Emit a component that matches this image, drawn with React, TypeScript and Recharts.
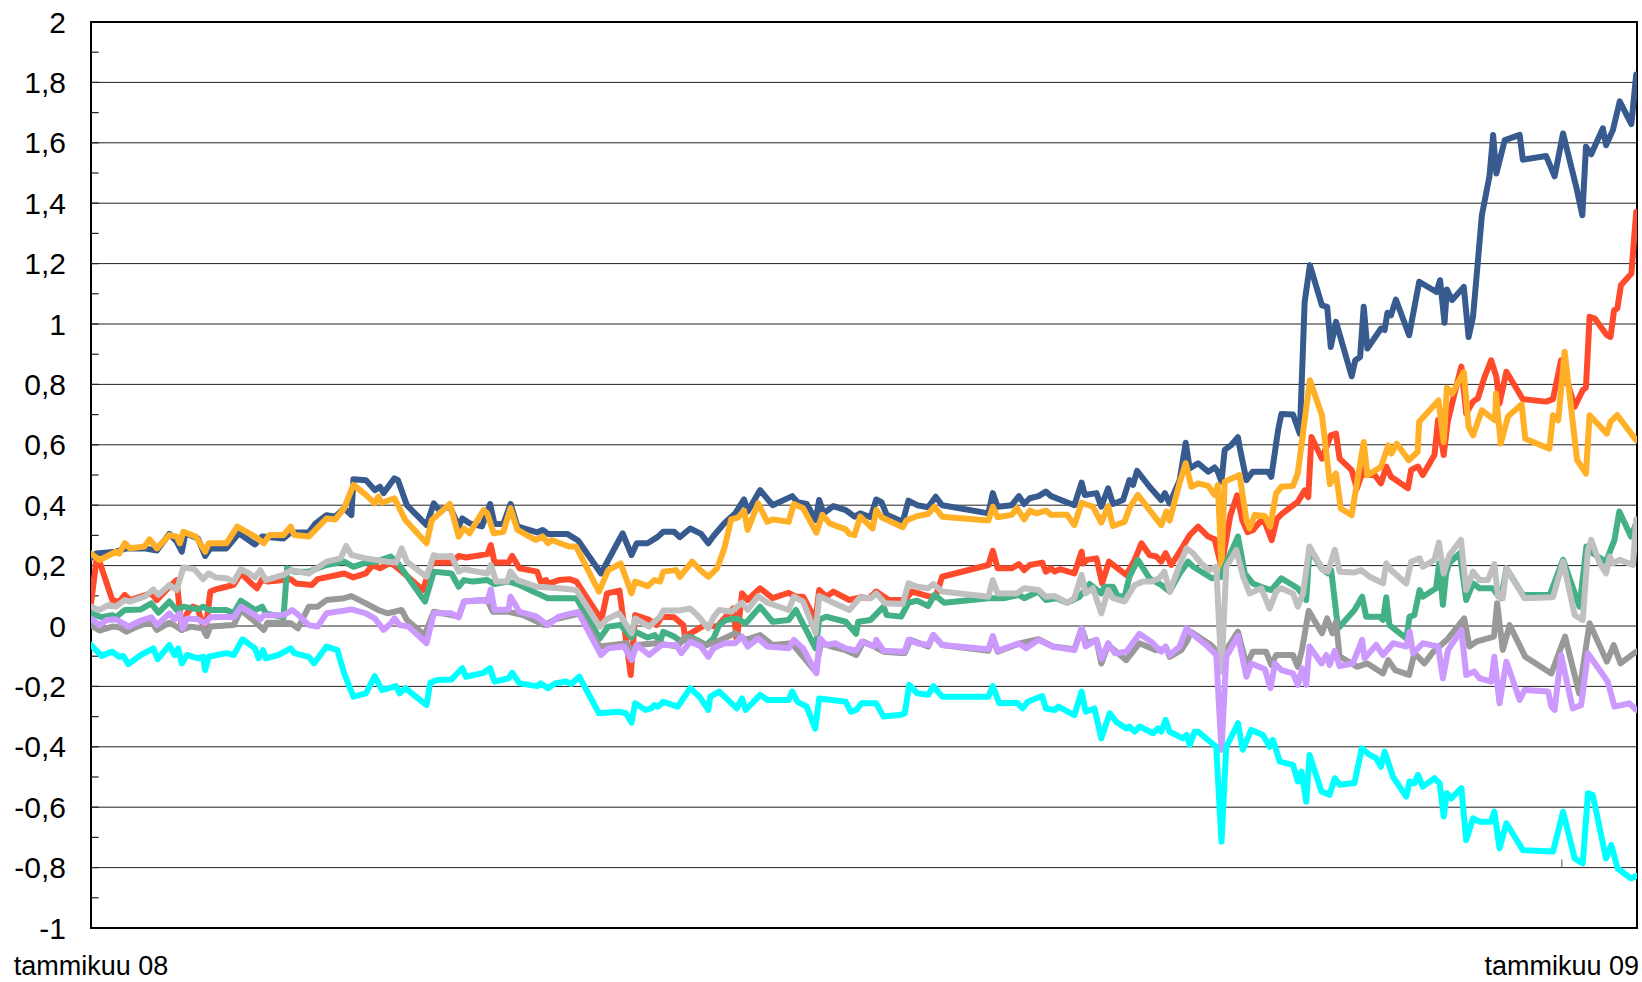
import {
  LineChart,
  Line,
  XAxis,
  YAxis,
  CartesianGrid,
  ReferenceLine,
  ReferenceArea,
} from "recharts";

// [päivä tammikuun 2008 alusta, arvo]
type Pt = [number, number];

const X_END = 384.7;
const X_TICKS = [0, 366];
const X_LABELS: Record<number, string> = { 0: "tammikuu 08", 366: "tammikuu 09" };
const Y_TICKS = [-1, -0.8, -0.6, -0.4, -0.2, 0, 0.2, 0.4, 0.6, 0.8, 1, 1.2, 1.4, 1.6, 1.8, 2];
const MINOR_TICKS = [
  -0.9, -0.8, -0.7, -0.6, -0.5, -0.4, -0.3, -0.2, -0.1, 0, 0.1, 0.2, 0.3, 0.4, 0.5, 0.6, 0.7,
  0.8, 0.9, 1, 1.1, 1.2, 1.3, 1.4, 1.5, 1.6, 1.7, 1.8, 1.9,
];

const blue: Pt[] = [
  [0, 0.225], [1.3, 0.24], [6.2, 0.246], [8.8, 0.257], [13.3, 0.257], [16.4, 0.25], [19.5, 0.305], [21.3, 0.28],
  [22.6, 0.246], [23.5, 0.307], [26.6, 0.29], [28.4, 0.232], [29.7, 0.257], [33.7, 0.257], [36.8, 0.307], [40.8, 0.27],
  [42.6, 0.296], [47.9, 0.29], [49.7, 0.31], [54.2, 0.31], [55.9, 0.34], [58.6, 0.367], [60.8, 0.362], [63, 0.39],
  [64.8, 0.367], [65.3, 0.486], [68.4, 0.483], [70.6, 0.45], [71.9, 0.461], [72.8, 0.44], [75.5, 0.489], [76.4, 0.483],
  [78.6, 0.4], [83.5, 0.334], [85.3, 0.406], [86.6, 0.384], [89.3, 0.395], [91.5, 0.33], [92.4, 0.356], [94.2, 0.34],
  [97.3, 0.33], [99.3, 0.404], [100.4, 0.338], [102.6, 0.338], [104.4, 0.404], [106.1, 0.33], [111, 0.31], [112.4, 0.318],
  [113.7, 0.305], [118.5, 0.305], [121.2, 0.283], [126.9, 0.174], [132.3, 0.307], [134.5, 0.235], [135.8, 0.274],
  [138.5, 0.274], [141.1, 0.296], [142.4, 0.312], [145.1, 0.312], [146.5, 0.294], [149.1, 0.323], [151.8, 0.305],
  [153.6, 0.274], [154.9, 0.298], [157.6, 0.34], [160.3, 0.373], [162.5, 0.419], [163.4, 0.379], [166.5, 0.45],
  [169.6, 0.4], [174.5, 0.43], [175.8, 0.41], [178.1, 0.404], [180.3, 0.351], [181.2, 0.417], [182.3, 0.373],
  [184.7, 0.397], [187.8, 0.384], [190, 0.362], [191.4, 0.373], [194, 0.36], [195.4, 0.419], [196.7, 0.41], [198, 0.368],
  [202, 0.345], [203.4, 0.415], [205.6, 0.4], [208.3, 0.393], [210.2, 0.428], [211.8, 0.4], [223.3, 0.373],
  [224.4, 0.44], [225.6, 0.395], [229.1, 0.4], [230.9, 0.43], [232.2, 0.404], [233.6, 0.423], [235.8, 0.43],
  [237.6, 0.445], [238.9, 0.43], [244.7, 0.4], [246.5, 0.475], [247.3, 0.434], [250.2, 0.44], [251.4, 0.395],
  [253.1, 0.456], [254.3, 0.404], [256.8, 0.417], [258.4, 0.483], [259.3, 0.467], [260.3, 0.514], [263.4, 0.461],
  [266.3, 0.417], [267.2, 0.44], [268.4, 0.406], [270.9, 0.483], [272.4, 0.607], [273.4, 0.522], [275.5, 0.539],
  [278, 0.511], [279.6, 0.525], [280.4, 0.511], [281.3, 0.478], [282.1, 0.583], [283.8, 0.6], [285.4, 0.625],
  [285.8, 0.594], [287.5, 0.483], [289.1, 0.511], [292.9, 0.511], [293.7, 0.494], [295.4, 0.649], [296.2, 0.702],
  [299.1, 0.7], [300.8, 0.637], [302, 1.073], [303.3, 1.195], [306.3, 1.062], [307.6, 1.057], [308.5, 0.924],
  [309.8, 1.007], [313.7, 0.827], [314.6, 0.88], [315.8, 0.891], [316.7, 1.057], [317.6, 0.919], [321, 0.985],
  [321.9, 0.98], [322.6, 1.037], [323.5, 1.029], [324.7, 1.081], [328, 0.963], [330.5, 1.14], [334.8, 1.106],
  [335.7, 1.145], [336.8, 1.004], [337.4, 1.114], [338.7, 1.079], [341.6, 1.123], [342.8, 0.957], [343.9, 1.024],
  [345.2, 1.222], [346.1, 1.36], [348, 1.49], [348.9, 1.626], [349.7, 1.498], [351.8, 1.609], [355.5, 1.626],
  [356.3, 1.544], [362.1, 1.556], [364.2, 1.489], [366.3, 1.631], [369.6, 1.453], [371.1, 1.36], [372, 1.587],
  [373.3, 1.562], [376.2, 1.648], [377, 1.592], [378.7, 1.642], [380.4, 1.737], [383.3, 1.662], [384.5, 1.826],
];

const red: Pt[] = [
  [0, 0.075], [1.3, 0.213], [2.2, 0.21], [5.3, 0.086], [7, 0.08], [8.4, 0.103], [9.7, 0.086], [13.7, 0.103], [15, 0.108],
  [16.4, 0.086], [19.5, 0.13], [21.3, 0.152], [22.6, -0.013], [23.9, 0.042], [25.3, 0.064], [26.6, 0.058],
  [28.4, -0.024], [29.7, 0.114], [31, 0.121], [33.7, 0.13], [35.5, 0.136], [37.3, 0.174], [39.9, 0.141], [41.3, 0.125],
  [42.6, 0.155], [43.9, 0.147], [47.9, 0.152], [49.7, 0.155], [51, 0.141], [55, 0.136], [56.4, 0.155], [63, 0.174],
  [65.3, 0.161], [68.4, 0.174], [70.1, 0.202], [71.9, 0.191], [74.6, 0.21], [76.4, 0.191], [82.6, 0.119], [84.8, 0.21],
  [89.7, 0.21], [91.5, 0.232], [93.3, 0.227], [98.6, 0.238], [99.5, 0.268], [100.4, 0.21], [103.9, 0.21],
  [104.8, 0.232], [106.6, 0.191], [111, 0.18], [111.9, 0.147], [113.3, 0.152], [113.7, 0.139], [116.4, 0.152],
  [119, 0.155], [120.8, 0.147], [127, 0.02], [128.4, 0.108], [131.5, 0.117], [134.3, -0.162], [135.4, 0.036],
  [138.9, 0.02], [140.7, 0.003], [142, 0.031], [145.1, 0.029], [147.4, 0.003], [147.8, -0.035], [152.7, 0.003],
  [155.8, -0.002], [159.8, 0.058], [160.7, -0.046], [162, 0.108], [163.4, 0.086], [166.5, 0.125], [169.6, 0.092],
  [173.6, 0.11], [175.4, 0.097], [177.2, 0.097], [180.3, 0.02], [181.2, 0.119], [183, 0.097], [184.7, 0.114],
  [188.7, 0.086], [191.4, 0.095], [193.6, 0.092], [195.4, 0.114], [198.5, 0.086], [202.5, 0.086], [204.3, 0.114],
  [208.3, 0.099], [210.1, 0.095], [211.8, 0.163], [223.3, 0.202], [224.4, 0.249], [225.6, 0.191], [229.1, 0.191],
  [230.9, 0.205], [232.2, 0.185], [233.6, 0.202], [236.7, 0.21], [237.6, 0.18], [238.9, 0.191], [239.8, 0.18],
  [241.1, 0.188], [244.7, 0.174], [246.5, 0.246], [246.9, 0.207], [247.8, 0.219], [250.2, 0.224], [251.6, 0.141],
  [253.3, 0.213], [257.6, 0.169], [259.7, 0.219], [261.4, 0.274], [263.4, 0.235], [265.1, 0.23], [266.3, 0.213],
  [267.4, 0.241], [268.8, 0.202], [271.7, 0.263], [273.4, 0.301], [275.5, 0.329], [278, 0.296], [279.6, 0.287],
  [281.3, 0.195], [283.5, 0.366], [285.2, 0.433], [286.5, 0.35], [287.8, 0.311], [289.1, 0.317], [290.8, 0.344],
  [292.1, 0.344], [293.8, 0.284], [295.1, 0.355], [296.4, 0.372], [298.1, 0.389], [300.3, 0.411], [302, 0.449],
  [302.9, 0.427], [303.7, 0.626], [306.3, 0.554], [308.5, 0.631], [309.8, 0.637], [310.7, 0.554], [313.7, 0.516],
  [315, 0.455], [316.7, 0.521], [317.3, 0.5], [319.4, 0.5], [321, 0.472], [322.3, 0.528], [323.5, 0.494],
  [327.7, 0.456], [328.5, 0.517], [330.2, 0.528], [331.4, 0.5], [334.3, 0.566], [335.2, 0.682], [336.6, 0.566],
  [337.6, 0.677], [339.3, 0.77], [341, 0.859], [342.2, 0.704], [343.9, 0.743], [345.1, 0.754], [346.8, 0.826],
  [348.4, 0.88], [349.7, 0.826], [350.5, 0.737], [352.2, 0.842], [356.3, 0.751], [362.1, 0.743], [363.8, 0.751],
  [365.8, 0.88], [369.2, 0.726], [371.2, 0.781], [372, 0.79], [372.9, 1.024], [374.2, 1.018], [377.2, 0.963],
  [378.1, 0.957], [379, 1.046], [379.8, 1.051], [380.7, 1.128], [383.3, 1.167], [384.5, 1.371],
];

const orange: Pt[] = [
  [0, 0.24], [2.1, 0.218], [6.2, 0.246], [7, 0.24], [8.4, 0.274], [9.7, 0.257], [13.3, 0.263], [14.6, 0.287],
  [16.4, 0.257], [19.5, 0.301], [21.3, 0.296], [22.1, 0.274], [23, 0.312], [26.1, 0.296], [28.4, 0.246], [29.3, 0.274],
  [33.7, 0.274], [36.4, 0.329], [40.8, 0.296], [43, 0.274], [44.4, 0.301], [47.9, 0.301], [49.7, 0.329], [50.6, 0.301],
  [54.2, 0.296], [58.6, 0.356], [60.8, 0.353], [63, 0.39], [65.3, 0.467], [68.4, 0.434], [70.6, 0.406], [71.5, 0.428],
  [72.4, 0.408], [75.5, 0.423], [78.2, 0.351], [83.5, 0.274], [84.8, 0.351], [89.3, 0.404], [91.5, 0.296],
  [92.8, 0.323], [94.2, 0.307], [97.7, 0.384], [98.6, 0.373], [100.2, 0.307], [102.6, 0.312], [104.4, 0.39],
  [106.1, 0.318], [110.6, 0.285], [112.4, 0.296], [113.7, 0.274], [114.6, 0.285], [118.9, 0.263], [120.7, 0.263],
  [126.4, 0.114], [128.7, 0.185], [131.8, 0.207], [134.5, 0.108], [135.4, 0.147], [138.5, 0.132], [140.2, 0.152],
  [141.6, 0.147], [142.4, 0.18], [145.6, 0.185], [146.5, 0.163], [149.6, 0.213], [151.8, 0.183], [153.6, 0.163],
  [155.8, 0.191], [157.6, 0.257], [159.3, 0.353], [161.1, 0.36], [162.5, 0.382], [163.4, 0.318], [166, 0.406],
  [168.3, 0.345], [169.6, 0.353], [173.6, 0.345], [174.9, 0.404], [177.2, 0.39], [180.5, 0.309], [182, 0.368],
  [183.8, 0.34], [187.8, 0.32], [188.7, 0.305], [190, 0.301], [191.4, 0.362], [194.5, 0.323], [195.4, 0.384],
  [196.7, 0.36], [202, 0.327], [202.9, 0.349], [205.6, 0.364], [208.3, 0.371], [209.9, 0.395], [211.8, 0.362],
  [223.3, 0.349], [224.4, 0.395], [225.6, 0.36], [229.1, 0.368], [230.4, 0.39], [232.2, 0.353], [233.6, 0.382],
  [235.3, 0.373], [237.6, 0.382], [238.9, 0.368], [242.9, 0.368], [244.7, 0.334], [246.5, 0.408], [249.3, 0.395],
  [251.4, 0.342], [253.1, 0.397], [254.3, 0.331], [257.2, 0.345], [258.4, 0.39], [260.5, 0.434], [266.3, 0.334],
  [267.6, 0.379], [268.4, 0.349], [270.9, 0.475], [272.4, 0.539], [273.8, 0.461], [275.5, 0.472], [278, 0.464],
  [279.6, 0.434], [280.4, 0.467], [281.3, 0.196], [282.1, 0.478], [285.8, 0.5], [287.5, 0.351], [288.3, 0.323],
  [289.6, 0.368], [292.1, 0.364], [293.4, 0.329], [294.9, 0.439], [296.2, 0.461], [299.1, 0.464], [300.3, 0.506],
  [303.3, 0.814], [306.3, 0.698], [308.3, 0.47], [309.8, 0.505], [311, 0.389], [313.7, 0.367], [316.7, 0.609],
  [317.6, 0.499], [321, 0.527], [322.8, 0.598], [323.6, 0.571], [324.9, 0.604], [327.9, 0.549], [330.1, 0.576],
  [330.5, 0.676], [335.3, 0.747], [336.6, 0.609], [337.4, 0.789], [338.7, 0.77], [341.6, 0.841], [342.8, 0.659],
  [343.9, 0.631], [346.1, 0.714], [349.4, 0.681], [349.6, 0.77], [350.8, 0.604], [352.6, 0.694], [356, 0.734],
  [356.9, 0.62], [362.9, 0.587], [363.8, 0.698], [365.1, 0.681], [366.7, 0.908], [369.8, 0.549], [372, 0.505],
  [372.9, 0.698], [377.2, 0.637], [378.1, 0.676], [379.8, 0.698], [384.5, 0.615],
];

const green: Pt[] = [
  [0, 0.042], [2.6, 0.029], [5.3, 0.036], [6.2, 0.029], [8.4, 0.053], [12.4, 0.055], [15, 0.075], [16.8, 0.044],
  [19.5, 0.081], [21.3, 0.053], [23, 0.064], [26.6, 0.055], [27.9, 0.064], [29.3, 0.053], [33.7, 0.053], [35.5, 0.042],
  [37.3, 0.084], [40.8, 0.053], [42.6, 0.064], [43.5, 0.042], [47.9, 0.029], [48.8, 0.191], [50.6, 0.18], [54.2, 0.18],
  [58.6, 0.202], [63, 0.213], [65.3, 0.196], [68.4, 0.21], [71, 0.213], [74.6, 0.23], [76.4, 0.207], [83.1, 0.081],
  [85.3, 0.18], [89.7, 0.174], [91.5, 0.13], [92.8, 0.152], [95, 0.147], [98.6, 0.152], [100.4, 0.139], [103.9, 0.147],
  [106.6, 0.136], [111, 0.108], [113.7, 0.092], [120.8, 0.092], [126.6, -0.041], [128.7, -0.002], [131.8, 0.003],
  [134.5, -0.038], [135.4, -0.019], [138.5, -0.038], [140.3, -0.03], [141.6, -0.052], [142.4, -0.019],
  [145.1, -0.035], [146.9, -0.052], [149.1, -0.035], [153.1, -0.063], [154.9, -0.041], [156.3, 0.003], [158, 0.02],
  [160.7, 0.025], [162.9, 0.009], [166.5, 0.064], [169.6, 0.014], [173.6, 0.02], [175.4, 0.053], [180.3, -0.074],
  [181.2, 0.02], [182.9, 0.031], [187.8, 0.014], [190.4, -0.026], [190.9, 0.014], [194, 0.02], [197.2, 0.064],
  [198, 0.036], [201.6, 0.031], [203.4, 0.077], [205.6, 0.084], [208.3, 0.066], [209.9, 0.103], [212.3, 0.077],
  [223.3, 0.092], [227, 0.092], [230.9, 0.103], [232.2, 0.092], [235.8, 0.114], [237.6, 0.086], [240.2, 0.092],
  [242.9, 0.077], [246, 0.097], [248.5, 0.139], [251.4, 0.108], [252.2, 0.13], [254.3, 0.13], [255.5, 0.099],
  [257.2, 0.097], [258.4, 0.163], [260.5, 0.219], [263.4, 0.158], [266.3, 0.136], [268.4, 0.114], [270.9, 0.174],
  [273, 0.213], [274.3, 0.196], [278.9, 0.158], [281.3, 0.163], [281.7, 0.185], [285.4, 0.296], [287.1, 0.174],
  [289.1, 0.141], [292.1, 0.125], [293.7, 0.119], [296.2, 0.158], [300.3, 0.125], [302.4, 0.086], [303.2, 0.257],
  [306.2, 0.191], [307.8, 0.174], [308.6, 0.185], [310.3, -0.008], [314.4, 0.053], [316.3, 0.097], [317.3, 0.031],
  [320.7, 0.031], [321.5, 0.02], [322.3, 0.095], [323.1, 0.003], [327.3, -0.041], [328.1, 0.031], [329.3, 0.036],
  [330.6, 0.119], [331.4, 0.097], [334.7, 0.125], [335.5, 0.208], [336.4, 0.07], [337.2, 0.174], [338, 0.208],
  [340.6, 0.241], [342.2, 0.086], [343.9, 0.141], [345.5, 0.125], [348.8, 0.125], [349.7, 0.108], [350.9, 0.092],
  [352.2, 0.191], [356.3, 0.103], [363, 0.103], [366.3, 0.219], [370.4, 0.064], [372.1, 0.263], [373.7, 0.241],
  [377, 0.213], [379.1, 0.285], [380.3, 0.379], [383.2, 0.296], [384.5, 0.34],
];

const darkGray: Pt[] = [
  [0, 0.003], [2.1, -0.015], [5.3, -0.002], [7, -0.004], [8.8, -0.019], [11.5, -0.002], [15, 0.014], [16.4, -0.013],
  [19.5, 0.011], [21.3, -0.002], [22.6, -0.013], [24.8, -0.002], [27.9, -0.008], [28.8, -0.033], [29.7, -0.002],
  [35.5, 0.003], [37.3, 0.053], [40.8, 0.014], [43, -0.013], [43.9, 0.011], [47.9, 0.011], [49.7, 0.009],
  [51.5, -0.008], [54.2, 0.064], [56.4, 0.064], [58.6, 0.086], [63, 0.092], [64.8, 0.099], [68.4, 0.075],
  [71.5, 0.053], [73.7, 0.042], [77.3, 0.053], [78.6, 0.02], [83, -0.03], [85.3, 0.047], [89.7, 0.036], [91.5, 0.031],
  [92.8, 0.081], [98.6, 0.086], [100, 0.047], [103.9, 0.047], [107.5, 0.036], [112.8, 0.003], [115.5, 0.022],
  [119.9, 0.036], [121.7, 0.042], [126.6, -0.068], [129.7, -0.063], [133.3, -0.057], [134.6, -0.085],
  [135.8, -0.063], [140.7, -0.057], [146, -0.068], [147.8, -0.035], [153.1, -0.063], [155.8, -0.052],
  [160.3, -0.024], [162.9, -0.046], [166.5, -0.03], [169.6, -0.063], [174.4, -0.057], [180.3, -0.151],
  [181.6, -0.057], [184.3, -0.068], [187.8, -0.08], [190.4, -0.096], [192.2, -0.052], [194.9, -0.068],
  [197.2, -0.085], [202.5, -0.09], [203.9, -0.046], [208.3, -0.068], [209.6, -0.03], [211.8, -0.063],
  [223.3, -0.082], [224.4, -0.035], [225.6, -0.085], [231.3, -0.057], [235.8, -0.044], [239.3, -0.068],
  [244.7, -0.077], [246.5, -0.008], [247.8, -0.057], [250.2, -0.046], [251.4, -0.124], [253.1, -0.063],
  [257.6, -0.113], [260.9, -0.057], [265, -0.08], [267.6, -0.074], [268.4, -0.102], [271.3, -0.08], [272.9, -0.046],
  [273.7, -0.019], [278.7, -0.063], [281.3, -0.1], [283, -0.068], [285.4, -0.019], [287.5, -0.129], [289.1, -0.085],
  [292.4, -0.085], [293.7, -0.129], [294.9, -0.096], [299.1, -0.096], [300.3, -0.135], [301.4, -0.074], [303, 0.05],
  [306.3, -0.024], [307.6, 0.025], [308.9, -0.024], [309.8, 0.014], [310.7, -0.1], [315, -0.135], [317.6, -0.124],
  [321.5, -0.157], [322.8, -0.113], [324.5, -0.146], [328, -0.162], [329.3, -0.09], [331.8, -0.124], [334, -0.085],
  [337.4, -0.046], [341.7, 0.025], [343, -0.068], [344.7, -0.052], [349.1, -0.035], [349.9, 0.075], [351.3, -0.079],
  [353, 0.003], [356.9, -0.102], [363.4, -0.157], [366.8, -0.035], [370.3, -0.223], [372.9, 0.009], [377.2, -0.118],
  [378.9, -0.063], [380.6, -0.124], [384.5, -0.085],
];

const lightGray: Pt[] = [
  [0, 0.064], [2.1, 0.053], [4.4, 0.07], [6.2, 0.064], [8.4, 0.086], [9.7, 0.081], [13.3, 0.097], [15.5, 0.121],
  [16.8, 0.103], [19.5, 0.136], [21.3, 0.119], [23, 0.194], [25.7, 0.188], [27.9, 0.155], [29.3, 0.174], [31, 0.161],
  [33.7, 0.158], [35.5, 0.147], [37.3, 0.188], [39, 0.177], [40.8, 0.161], [42.1, 0.185], [43.5, 0.152],
  [47.9, 0.169], [49.7, 0.185], [54.2, 0.174], [58.6, 0.213], [62.1, 0.224], [63.5, 0.265], [64.8, 0.235],
  [68.4, 0.224], [73.7, 0.213], [75.9, 0.21], [77.3, 0.257], [78.6, 0.213], [83.5, 0.163], [85.3, 0.235],
  [86.6, 0.23], [89.7, 0.232], [91.5, 0.18], [92.8, 0.188], [98.6, 0.174], [99.5, 0.202], [100.8, 0.147],
  [103.5, 0.147], [104.4, 0.18], [106.1, 0.152], [111, 0.13], [116.4, 0.125], [120.8, 0.119], [126.6, -0.002],
  [128.3, 0.022], [131.4, 0.042], [134.5, -0.024], [135.4, 0.025], [138.9, -0.002], [141.6, 0.031], [142.4, 0.051],
  [146, 0.051], [149.1, 0.058], [150.9, 0.036], [153.6, -0.008], [154.9, 0.029], [156.3, 0.053], [159.3, 0.047],
  [162, 0.077], [163.4, 0.053], [166, 0.099], [168.3, 0.077], [173.6, 0.053], [174.9, 0.097], [177.2, 0.081],
  [180.3, -0.024], [181.2, 0.099], [184.7, 0.077], [188.7, 0.053], [191.4, 0.095], [194, 0.092], [195.4, 0.108],
  [197.6, 0.075], [202, 0.073], [203.4, 0.141], [205.6, 0.13], [208.3, 0.125], [209.6, 0.139], [211.8, 0.114],
  [223.3, 0.097], [224.4, 0.152], [225.6, 0.108], [230.4, 0.108], [232.2, 0.125], [235.8, 0.119], [237.6, 0.097],
  [239.8, 0.099], [242.9, 0.077], [244.7, 0.092], [246.5, 0.169], [247.5, 0.108], [249.3, 0.125], [251.4, 0.042],
  [253.1, 0.119], [254.3, 0.092], [257.2, 0.081], [259.7, 0.136], [261.7, 0.147], [263.8, 0.147], [265.8, 0.158],
  [267.1, 0.18], [268.4, 0.114], [270.9, 0.202], [272.6, 0.257], [274.2, 0.241], [276.3, 0.207], [278.3, 0.185],
  [280, 0.196], [281.3, -0.151], [282.5, 0.196], [285, 0.252], [286.7, 0.163], [288.3, 0.108], [291.2, 0.125],
  [293.3, 0.058], [294.9, 0.114], [296.2, 0.125], [299.1, 0.108], [300.3, 0.064], [301.6, 0.108], [303.2, 0.263],
  [306.6, 0.185], [307.8, 0.18], [309.5, 0.252], [310.7, 0.18], [314.4, 0.177], [316.1, 0.185], [318.2, 0.163],
  [321.5, 0.141], [322.3, 0.208], [323.5, 0.185], [327.3, 0.141], [328.5, 0.213], [330.6, 0.224], [331.4, 0.196],
  [334.3, 0.219], [335.4, 0.276], [336.6, 0.174], [338, 0.235], [340.9, 0.285], [342.2, 0.119], [343.9, 0.18],
  [345.5, 0.152], [347.6, 0.152], [349.2, 0.205], [350.1, 0.097], [351.3, 0.092], [352.2, 0.191], [355.5, 0.119],
  [356.7, 0.092], [363.8, 0.095], [366.3, 0.213], [369.2, 0.036], [371.2, 0.02], [372.5, 0.252], [373.3, 0.285],
  [375.4, 0.208], [377, 0.174], [377.9, 0.23], [378.7, 0.208], [380.4, 0.219], [383.7, 0.202], [384.5, 0.353],
];

const purple: Pt[] = [
  [0, 0.025], [2.1, 0.003], [3.9, 0.02], [6.2, 0.022], [8, 0.009], [9.3, -0.002], [12.4, 0.018], [15, 0.029],
  [16.4, 0.003], [19.5, 0.042], [20.8, 0.022], [22.1, 0.042], [22.8, -0.008], [23.9, 0.025], [26.6, 0.022],
  [28.4, 0.009], [29.7, 0.029], [33.7, 0.031], [35.5, 0.029], [37.3, 0.064], [40.8, 0.036], [42.1, 0.022], [43, 0.036],
  [47.9, 0.036], [50.1, 0.053], [51.9, 0.033], [54.2, 0.003], [56.4, -0.002], [58.6, 0.042], [63, 0.051],
  [64.8, 0.055], [68.4, 0.042], [70.6, 0.025], [72.8, -0.013], [74.6, 0.009], [75.5, 0.025], [76.8, 0.003],
  [79, -0.002], [83.5, -0.057], [85.3, 0.042], [89.7, 0.042], [91.5, 0.029], [92.8, 0.081], [96.8, 0.086],
  [98.6, 0.081], [99.5, 0.121], [100.4, 0.053], [103.9, 0.055], [104.4, 0.097], [106.6, 0.047], [110.6, 0.033],
  [113.7, 0.003], [116.4, 0.031], [121.2, 0.047], [126.9, -0.096], [128.7, -0.074], [132.7, -0.068], [134.5, -0.113],
  [135.8, -0.063], [138.9, -0.096], [142, -0.063], [145.6, -0.063], [146.9, -0.09], [149.1, -0.052], [151.8, -0.068],
  [153.6, -0.102], [154.9, -0.074], [157.6, -0.057], [160.3, -0.057], [162, -0.035], [163.4, -0.068], [166, -0.041],
  [168.3, -0.068], [173.6, -0.074], [174.9, -0.046], [177.2, -0.074], [180.5, -0.157], [181.4, -0.041],
  [182.9, -0.063], [185.2, -0.057], [187.8, -0.074], [190.4, -0.082], [191.8, -0.052], [194.9, -0.068],
  [195.4, -0.046], [197.2, -0.082], [202.5, -0.085], [203.4, -0.046], [205.6, -0.057], [208.3, -0.063],
  [209.6, -0.03], [211.8, -0.063], [223.3, -0.077], [224.4, -0.033], [225.6, -0.082], [230.9, -0.057],
  [232.7, -0.074], [235.8, -0.046], [239.3, -0.068], [244.7, -0.08], [246.5, -0.008], [247.5, -0.068],
  [250.2, -0.046], [251.5, -0.108], [253.1, -0.057], [254.8, -0.09], [257.6, -0.085], [260.9, -0.026],
  [263.8, -0.052], [266.3, -0.085], [267.4, -0.068], [268.4, -0.096], [270.9, -0.068], [272.6, -0.008],
  [273.8, -0.024], [277.5, -0.063], [280, -0.096], [281.3, -0.41], [282.5, -0.102], [285.4, -0.033], [287.5, -0.168],
  [288.7, -0.124], [292.1, -0.143], [293.5, -0.206], [294.6, -0.124], [296.2, -0.146], [299.1, -0.157],
  [300.3, -0.195], [301.4, -0.14], [302.4, -0.195], [303.2, -0.068], [306.2, -0.124], [307.4, -0.096],
  [308.2, -0.129], [309.5, -0.082], [310.7, -0.133], [314, -0.124], [316.3, -0.046], [316.9, -0.107],
  [319.8, -0.063], [321.5, -0.096], [324, -0.057], [327.3, -0.068], [328.1, -0.019], [329, -0.091], [331.4, -0.057],
  [335.2, -0.068], [336.4, -0.173], [337.7, -0.079], [341, -0.013], [342.2, -0.162], [344.2, -0.151],
  [345.5, -0.173], [348.4, -0.184], [349.2, -0.102], [350.5, -0.256], [352.2, -0.118], [355.5, -0.245],
  [356.7, -0.212], [362.6, -0.217], [363.4, -0.267], [364.2, -0.278], [365.8, -0.096], [368.7, -0.273],
  [370.8, -0.262], [372.5, -0.091], [377.4, -0.184], [379.1, -0.267], [382.8, -0.256], [384.5, -0.278],
];

const cyan: Pt[] = [
  [0, -0.063], [2.6, -0.099], [5.3, -0.085], [7, -0.102], [8, -0.099], [9.3, -0.126], [12.4, -0.096], [15.5, -0.074],
  [16.6, -0.11], [19.5, -0.063], [20.8, -0.096], [21.7, -0.074], [22.6, -0.124], [23.9, -0.096], [26.6, -0.107],
  [27.9, -0.102], [28.4, -0.146], [29.3, -0.102], [33.7, -0.09], [35.5, -0.096], [37.7, -0.044], [40.8, -0.074],
  [41.7, -0.107], [42.8, -0.08], [43.5, -0.107], [46.6, -0.096], [49.7, -0.074], [50.6, -0.09], [54.2, -0.102],
  [55.5, -0.124], [58.6, -0.068], [61.3, -0.08], [63, -0.157], [65.3, -0.234], [68.4, -0.223], [70.6, -0.166],
  [72.4, -0.212], [75.9, -0.199], [76.8, -0.223], [78.2, -0.206], [83.5, -0.262], [84.4, -0.188], [86.2, -0.179],
  [89.7, -0.177], [92.4, -0.14], [93.3, -0.168], [97.7, -0.155], [99.3, -0.14], [100.4, -0.184], [103.9, -0.173],
  [104.8, -0.155], [106.6, -0.19], [111, -0.199], [111.9, -0.19], [113.7, -0.206], [115.5, -0.19], [118.2, -0.184],
  [119.5, -0.192], [121.5, -0.168], [126.4, -0.289], [131.3, -0.284], [133.1, -0.289], [134.5, -0.32],
  [135.4, -0.256], [138, -0.278], [139.4, -0.273], [140.2, -0.262], [141.1, -0.267], [142.4, -0.251], [146, -0.267],
  [149.1, -0.206], [151.4, -0.234], [153.6, -0.278], [154.1, -0.234], [156.3, -0.217], [160.7, -0.273], [162, -0.24],
  [162.9, -0.278], [166.5, -0.228], [168.3, -0.245], [173.6, -0.245], [174.5, -0.217], [175.8, -0.251],
  [178.1, -0.267], [180.2, -0.34], [181.2, -0.24], [184.3, -0.245], [187.8, -0.251], [189.1, -0.284],
  [190.4, -0.278], [191.8, -0.256], [195.4, -0.256], [197.2, -0.3], [201.1, -0.295], [202.5, -0.289],
  [203.6, -0.195], [205.6, -0.223], [208.3, -0.228], [209.6, -0.199], [211.8, -0.234], [223.3, -0.234],
  [224.4, -0.199], [226, -0.256], [230.4, -0.254], [231.8, -0.273], [233.1, -0.251], [236.7, -0.232],
  [237.6, -0.273], [239.8, -0.278], [240.7, -0.267], [244.7, -0.295], [246.5, -0.217], [247.5, -0.284],
  [249.7, -0.273], [251.4, -0.372], [253.5, -0.289], [255.1, -0.317], [257.6, -0.339], [258.4, -0.333],
  [259.7, -0.35], [260.9, -0.333], [264.3, -0.355], [265.5, -0.339], [266.3, -0.35], [267.4, -0.311], [268.4, -0.35],
  [271.7, -0.372], [272.6, -0.361], [273.4, -0.394], [274.6, -0.35], [275.5, -0.35], [280, -0.4], [281.3, -0.714],
  [282.5, -0.4], [285.4, -0.322], [286.6, -0.41], [288.7, -0.344], [291.6, -0.361], [293.3, -0.4], [294.1, -0.377],
  [295.8, -0.449], [299.1, -0.46], [300.3, -0.515], [301.2, -0.482], [302.4, -0.582], [303.2, -0.427],
  [306.2, -0.548], [308.2, -0.559], [309.5, -0.504], [310.7, -0.526], [314.4, -0.52], [316.2, -0.405],
  [318.2, -0.427], [319.8, -0.438], [321, -0.466], [321.9, -0.416], [324, -0.5], [327.3, -0.565], [328.1, -0.515],
  [329.3, -0.521], [330.2, -0.493], [331.4, -0.532], [334.3, -0.504], [335.6, -0.521], [336.6, -0.631],
  [337.4, -0.554], [338.5, -0.571], [341, -0.537], [342.2, -0.709], [343.9, -0.637], [345.5, -0.648],
  [348.4, -0.648], [349.2, -0.615], [350.5, -0.736], [352.2, -0.653], [356.3, -0.742], [363.8, -0.747],
  [366.3, -0.615], [369.2, -0.77], [371.2, -0.786], [372.5, -0.554], [373.7, -0.56], [377, -0.77], [378.3, -0.725],
  [379.9, -0.803], [383.2, -0.836], [384.5, -0.828],
];

// piirtojärjestys: myöhempi sarja päällä
const SERIES = [
  { name: "blue", points: blue, color: "#385b8f" },
  { name: "red", points: red, color: "#ff4a2b" },
  { name: "orange", points: orange, color: "#ffb027" },
  { name: "green", points: green, color: "#44b085" },
  { name: "darkGray", points: darkGray, color: "#999999" },
  { name: "lightGray", points: lightGray, color: "#c0c0c0" },
  { name: "purple", points: purple, color: "#cc99ff" },
  { name: "cyan", points: cyan, color: "#00ffff" },
];

const FONT = "'Liberation Sans', Arial, sans-serif";

const formatY = (v: number) => String(Math.round(v * 10) / 10).replace(".", ",");

export default function App() {
  return (
    <div style={{ position: "absolute", left: 0, top: 0, width: 1642, height: 982, background: "#fff" }}>
      <LineChart
        width={1642}
        height={982}
        margin={{ top: 22, right: 5, bottom: 0, left: 0 }}
        style={{ fontFamily: FONT }}
      >
        <CartesianGrid vertical={false} stroke="#222" strokeWidth={1} />
        <XAxis
          type="number"
          dataKey="d"
          domain={[0, X_END]}
          ticks={X_TICKS}
          interval={0}
          allowDataOverflow
          tickFormatter={(v: number) => X_LABELS[v] ?? ""}
          tick={{ fontSize: 27, fill: "#000", fontFamily: FONT }}
          axisLine={false}
          tickLine={false}
          tickSize={0}
          tickMargin={28}
          height={54}
        />
        <YAxis
          type="number"
          domain={[-1, 2]}
          ticks={Y_TICKS}
          interval={0}
          allowDataOverflow
          tickFormatter={formatY}
          tick={{ fontSize: 30, fill: "#000", fontFamily: FONT }}
          axisLine={false}
          tickLine={false}
          tickSize={0}
          tickMargin={25}
          width={91}
        />
        {MINOR_TICKS.map((v) => (
          <ReferenceLine
            key={`m${v}`}
            segment={[{ x: 0, y: v }, { x: 1.9, y: v }]}
            stroke="#222"
            strokeWidth={1.2}
          />
        ))}
        <ReferenceLine segment={[{ x: 366, y: -0.8 }, { x: 366, y: -0.773 }]} stroke="#555" strokeWidth={1} />
        {SERIES.map((s) => (
          <Line
            key={s.name}
            name={s.name}
            data={s.points.map(([d, v]) => ({ d, v }))}
            dataKey="v"
            type="linear"
            stroke={s.color}
            strokeWidth={6}
            strokeLinejoin="round"
            strokeLinecap="round"
            dot={false}
            activeDot={false}
            isAnimationActive={false}
          />
        ))}
        <ReferenceArea x1={0} x2={X_END} y1={-1} y2={2} fill="none" stroke="#000" strokeWidth={2} />
      </LineChart>
    </div>
  );
}
